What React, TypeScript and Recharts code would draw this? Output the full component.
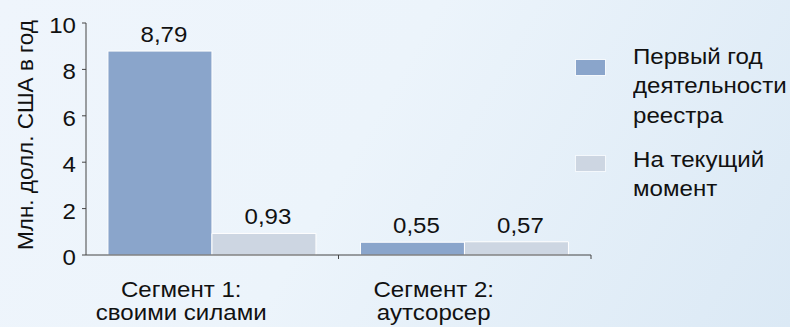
import { BarChart, Bar, XAxis, YAxis, LabelList } from 'recharts';

const categories = ['Сегмент 1:\nсвоими силами', 'Сегмент 2:\nаутсорсер'];
const firstYear = [8.79, 0.55];
const current = [0.93, 0.57];
const yTicks = [0, 2, 4, 6, 8, 10];

const series = [
  { key: 'firstYear', name: 'Первый год\nдеятельности\nреестра', color: '#8aa5cb' },
  { key: 'current', name: 'На текущий\nмомент', color: '#cdd6e2' },
];

const data = categories.map((c, i) => ({ name: c, firstYear: firstYear[i], current: current[i] }));

const W = 790;
const H = 327;
const margin = { top: 23, right: 199, bottom: 0, left: 0 };
const yAxisWidth = 86;
const band = (W - margin.left - margin.right - yAxisWidth) / categories.length;

const font = 'Arial, "Liberation Sans", sans-serif';
const FS = 21.5;
const SX = 1.12; // text in the picture is a bit wider than plain Arial
const ink = '#111';

const fmt = (v: any) => String(v).replace('.', ',');

function WideText({ x, y, anchor = 'middle', children }: any) {
  return (
    <text
      transform={`translate(${x},${y}) scale(${SX},1)`}
      textAnchor={anchor}
      fontSize={FS}
      fill={ink}
      fontFamily={font}
    >
      {children}
    </text>
  );
}

function ValueTick(props: any) {
  const { x, y, payload } = props;
  return <WideText x={x} y={y + 10} anchor="end">{payload.value}</WideText>;
}

function CategoryTick(props: any) {
  const { x, y, payload } = props;
  const lines = String(payload.value).split('\n');
  return (
    <g>
      <line x1={x + band / 2} x2={x + band / 2} y1={y} y2={y + 4} stroke="#444" />
      {lines.map((l, i) => (
        <WideText key={i} x={x - 31} y={y + 41.5 + i * 23.5}>{l}</WideText>
      ))}
    </g>
  );
}

function BarValue(props: any) {
  const { x, y, width, value } = props;
  return <WideText x={x + width / 2 + 4} y={y - 9}>{fmt(value)}</WideText>;
}

const legendTops = [43, 146];
const swatchTops = [59, 155];

function LegendBox() {
  return (
    <div style={{ position: 'absolute', left: 575, top: 0, fontFamily: font, fontSize: FS, color: ink, lineHeight: '29.3px' }}>
      {series.map((s, i) => (
        <div key={s.key}>
          <div
            style={{
              position: 'absolute',
              left: 0,
              top: swatchTops[i],
              width: 31,
              height: 17,
              background: s.color,
              border: '1px solid #f4f8fc',
              boxSizing: 'border-box',
            }}
          />
          <div
            style={{
              position: 'absolute',
              left: 58,
              top: legendTops[i],
              whiteSpace: 'pre',
              transform: `scaleX(${SX})`,
              transformOrigin: 'left top',
            }}
          >
            {s.name}
          </div>
        </div>
      ))}
    </div>
  );
}

export default function App() {
  return (
    <div
      style={{
        position: 'fixed',
        left: 0,
        top: 0,
        width: W,
        height: H,
        overflow: 'hidden',
        background: 'linear-gradient(120deg, #eff5fc 0%, #ecf4fb 45%, #dbe9f5 100%)',
      }}
    >
      <BarChart width={W} height={H} data={data} margin={margin} barCategoryGap="8.7%" barGap={0}>
        <YAxis
          width={yAxisWidth}
          domain={[0, 10]}
          ticks={yTicks}
          tickSize={4}
          tickMargin={6}
          stroke="#444"
          tick={<ValueTick />}
          label={(p: any) => {
            const vb = p.viewBox;
            const cx = vb.x + 33;
            const cy = 135;
            return (
              <text x={cx} y={cy} transform={`rotate(-90 ${cx} ${cy})`} textAnchor="middle" fontSize={22.5} fill={ink} fontFamily={font}>
                Млн. долл. США в год
              </text>
            );
          }}
        />
        <XAxis dataKey="name" height={72} stroke="#444" tickLine={false} tickSize={0} tickMargin={0} tick={<CategoryTick />} interval={0} />
        {series.map((s) => (
          <Bar key={s.key} dataKey={s.key} name={s.name} fill={s.color} stroke="#fff" strokeWidth={1} isAnimationActive={false}>
            <LabelList dataKey={s.key} content={<BarValue />} />
          </Bar>
        ))}
      </BarChart>
      <LegendBox />
    </div>
  );
}
